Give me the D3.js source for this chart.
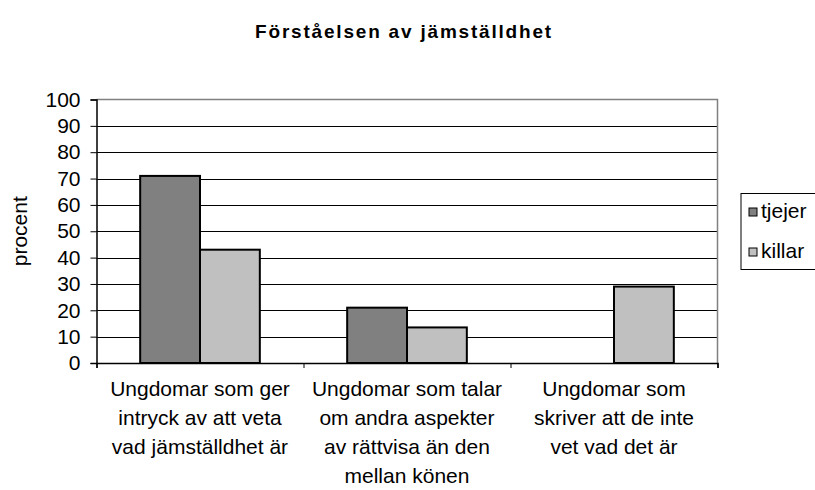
<!DOCTYPE html>
<html>
<head>
<meta charset="utf-8">
<script src="https://cdn.jsdelivr.net/npm/d3@7"></script>
<style>
  body { margin: 0; background: #fff; }
  svg { font-family: "Liberation Sans", Arial, sans-serif; }
</style>
</head>
<body>
<svg width="815" height="490"></svg>
<script>
const categories = [
    ["Ungdomar som ger", "intryck av att veta", "vad jämställdhet är"],
    ["Ungdomar som talar", "om andra aspekter", "av rättvisa än den", "mellan könen"],
    ["Ungdomar som", "skriver att de inte", "vet vad det är"]
]
const seriesNames = ["tjejer", "killar"]
const tjejer = [71, 21, 0]
const killar = [43, 13.5, 29]
const yTicks = [0, 10, 20, 30, 40, 50, 60, 70, 80, 90, 100]
const colors = ["#808080", "#c0c0c0"]

const svg = d3.select("svg")

const plot = { left: 96.5, right: 717.5, top: 99.5, bottom: 363 }

const x0 = d3.scaleBand()
    .domain(d3.range(categories.length))
    .range([plot.left, plot.right])
    .padding(0)

const x1 = d3.scaleBand()
    .domain(seriesNames)
    .range([0, x0.bandwidth()])
    .paddingInner(0)
    .paddingOuter(0.73)

const y = d3.scaleLinear()
    .domain([0, 100])
    .range([plot.bottom, plot.top])

// gridlines
svg.append("g")
    .selectAll("line")
    .data(yTicks.filter(d => d > 0 && d < 100))
    .enter()
    .append("line")
    .attr("x1", plot.left)
    .attr("x2", plot.right)
    .attr("y1", d => Math.round(y(d)) + 0.5)
    .attr("y2", d => Math.round(y(d)) + 0.5)
    .attr("stroke", "#000")
    .attr("stroke-width", 1)

// top and right border (grey)
svg.append("path")
    .attr("d", `M${plot.left},${plot.top}H${plot.right}V${plot.bottom}`)
    .attr("fill", "none")
    .attr("stroke", "#808080")
    .attr("stroke-width", 1.5)

// bars
const values = seriesNames.map((s, i) => i == 0 ? tjejer : killar)
const groups = svg.append("g")
    .selectAll("g")
    .data(categories.map((c, i) => i))
    .enter()
    .append("g")
    .attr("transform", i => `translate(${x0(i)},0)`)

groups.selectAll("rect")
    .data(i => seriesNames.map((s, k) => ({ s: s, k: k, v: values[k][i] })))
    .enter()
    .filter(d => d.v > 0)
    .append("rect")
    .attr("x", d => x1(d.s))
    .attr("width", x1.bandwidth())
    .attr("y", d => y(d.v))
    .attr("height", d => y(0) - y(d.v))
    .attr("fill", d => colors[d.k])
    .attr("stroke", "#000")
    .attr("stroke-width", 2)

// y axis
const yAxis = d3.axisLeft(y)
    .tickValues(yTicks)
    .tickSize(6)
    .tickPadding(10)

svg.append("g")
    .attr("transform", `translate(${plot.left},0)`)
    .call(yAxis)
    .call(g => g.select(".domain").attr("stroke", "#000").attr("stroke-width", 1.5))
    .call(g => g.selectAll("text").attr("font-size", 21).attr("fill", "#000").attr("font-family", "Liberation Sans, Arial"))

// x axis
const xAxis = d3.axisBottom(d3.scaleLinear().domain([0, 3]).range([plot.left, plot.right]))
    .tickValues([0, 1, 2, 3])
    .tickSize(5)
    .tickFormat("")

svg.append("g")
    .attr("transform", `translate(0,${plot.bottom})`)
    .call(xAxis)
    .call(g => g.select(".domain").attr("stroke", "#000").attr("stroke-width", 1.5))

// category labels
svg.append("g")
    .selectAll("text")
    .data(categories)
    .enter()
    .append("text")
    .attr("text-anchor", "middle")
    .attr("font-size", 21)
    .attr("y", 396)
    .attr("x", (d, i) => x0(i) + x0.bandwidth() / 2)
    .selectAll("tspan")
    .data(d => d)
    .enter()
    .append("tspan")
    .attr("x", function () { return d3.select(this.parentNode).attr("x") })
    .attr("dy", (d, i) => i == 0 ? 0 : 29)
    .text(d => d)

// y axis title
svg.append("text")
    .attr("transform", `translate(27,${(plot.top + plot.bottom) / 2}) rotate(-90)`)
    .attr("text-anchor", "middle")
    .attr("font-size", 21)
    .text("procent")

// title
svg.append("text")
    .attr("x", 404)
    .attr("y", 38)
    .attr("text-anchor", "middle")
    .attr("font-size", 19)
    .attr("font-weight", "bold")
    .attr("letter-spacing", 1.8)
    .text("Förståelsen av jämställdhet")

// legend
const legend = svg.append("g")
svg.append("rect")
    .attr("x", 741)
    .attr("y", 193.5)
    .attr("width", 80)
    .attr("height", 76)
    .attr("fill", "none")
    .attr("stroke", "#000")
    .attr("stroke-width", 1)

const item = legend.selectAll("g")
    .data(seriesNames)
    .enter()
    .append("g")
    .attr("transform", (d, i) => `translate(749,${208 + i * 40})`)

item.append("rect")
    .attr("width", 8)
    .attr("height", 8)
    .attr("fill", (d, i) => colors[i])
    .attr("stroke", "#000")
    .attr("stroke-width", 1)

item.append("text")
    .attr("x", 12)
    .attr("y", 10)
    .attr("font-size", 21)
    .text(d => d)
</script>
</body>
</html>
